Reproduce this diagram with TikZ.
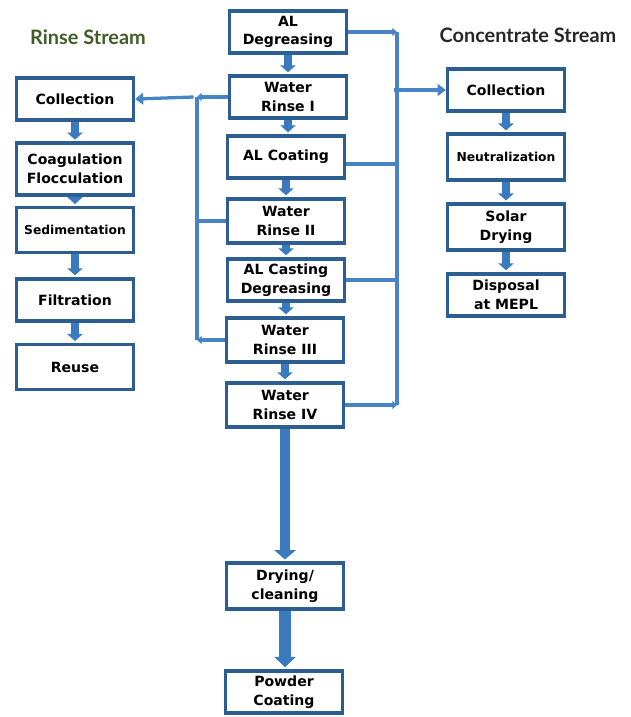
\documentclass[tikz,border=0pt]{standalone}
\usepackage{fontspec}
\setmainfont{DejaVu Sans}
\newfontfamily\titlefont{Lato}
\usetikzlibrary{arrows.meta, positioning, calc}
\definecolor{boxblue}{RGB}{44, 94, 146}
\definecolor{flowblue}{RGB}{58, 122, 190}
\definecolor{linkblue}{RGB}{70, 132, 198}
\definecolor{rinsegreen}{RGB}{66, 92, 40}

\begin{document}
\begin{tikzpicture}[x=0.03cm, y=-0.03cm,
  stage/.style={draw=boxblue, line width=3pt, fill=white, minimum width=3.5cm, minimum height=1.27cm, inner sep=2pt, align=center, font=\bfseries\fontsize{12}{16}\selectfont},
  narrow/.style={font=\bfseries\fontsize{10.5}{14}\selectfont},
  flow/.style={draw=flowblue, line width=6pt, -{Triangle[width=13pt, length=6pt]}, shorten >=1.5pt},
  link/.style={draw=linkblue, line width=2.8pt},
  feed/.style={link, -{Triangle[width=7pt, length=4pt]}},
  title/.style={font=\titlefont\bfseries\fontsize{17}{19}\selectfont}
]
  \useasboundingbox (0,0) rectangle (630,717);

  \node[title, text=rinsegreen] (rinsehead) at (88,37) {Rinse Stream};
  \node[title, text=black!85] (conchead) at (528,35) {Concentrate Stream};

  % main process line
  \node[stage] (degr) at (288,32) {AL\\Degreasing};
  \node[stage] (rinseA) at (288,97) {Water\\Rinse I};
  \node[stage] (coat) at (286,157) {AL Coating};
  \node[stage, minimum height=1.33cm] (rinseB) at (286,221) {Water\\Rinse II};
  \node[stage] (cast) at (286,280) {AL Casting\\Degreasing};
  \node[stage, minimum height=1.33cm] (rinseC) at (285,340) {Water\\Rinse III};
  \node[stage, minimum height=1.33cm] (rinseD) at (285,405) {Water\\Rinse IV};
  \node[stage, minimum height=1.38cm] (dry) at (285,586) {Drying/\\cleaning};
  \node[stage] (powder) at (284,692) {Powder\\Coating};

  % rinse stream
  \node[stage] (lcoll) at (75,99) {Collection};
  \node[stage, minimum height=1.55cm] (coag) at (75,169) {Coagulation\\Flocculation};
  \node[stage, narrow, minimum height=1.35cm] (sed) at (75,230) {Sedimentation};
  \node[stage] (filt) at (75,300) {Filtration};
  \node[stage, minimum height=1.35cm] (reuse) at (75,367) {Reuse};

  % concentrate stream
  \node[stage] (rcoll) at (506,90) {Collection};
  \node[stage, narrow, minimum height=1.38cm] (neut) at (506,157) {Neutralization};
  \node[stage, minimum height=1.38cm] (solar) at (506,227) {Solar\\Drying};
  \node[stage] (disp) at (506,295) {Disposal\\at MEPL};

  \draw[flow] (degr.south) -- (degr.south |- rinseA.north);
  \draw[flow] (rinseA.south) -- (rinseA.south |- coat.north);
  \draw[flow] (coat.south) -- (coat.south |- rinseB.north);
  \draw[flow] (rinseB.south) -- (rinseB.south |- cast.north);
  \draw[flow] (cast.south) -- (cast.south |- rinseC.north);
  \draw[flow] (rinseC.south) -- (rinseC.south |- rinseD.north);
  \draw[flow, line width=8pt, -{Triangle[width=18pt, length=8pt]}] (rinseD.south) -- (rinseD.south |- dry.north);
  \draw[flow, line width=10pt, -{Triangle[width=18pt, length=9pt]}] (dry.south) -- (dry.south |- powder.north);

  \draw[flow] (lcoll) -- (coag);
  \draw[flow] (coag) -- (sed);
  \draw[flow] (sed) -- (filt);
  \draw[flow] (filt) -- (reuse);

  \draw[flow] (rcoll) -- (neut);
  \draw[flow] (neut) -- (solar);
  \draw[flow] (solar) -- (disp);

  % rinse water goes left
  \coordinate (ltop) at (197,97);
  \coordinate (lbot) at (197,340);
  \draw[feed] (rinseA.west) -- (ltop);
  \draw[link] (ltop) -- (lbot);
  \draw[link] (rinseB.west) -- (rinseB.west -| ltop);
  \draw[feed] (rinseC.west) -- (lbot);
  \draw[link, -{Triangle[width=10pt, length=7pt]}] ([xshift=-0.1cm]ltop) -- (lcoll.east);

  % concentrate goes right
  \coordinate (rtop) at (397,32);
  \coordinate (rbot) at (397,405);
  \draw[feed] (degr.east) -- (rtop);
  \draw[link] (rtop) -- (rbot);
  \draw[link] ($(coat.east)+(0,7)$) -- ($(coat.east -| rtop)+(0,7)$);
  \draw[link] (cast.east) -- (cast.east -| rtop);
  \draw[feed] (rinseD.east) -- (rbot);
  \draw[link, -{Triangle[width=10pt, length=7pt]}] ([xshift=-0.1cm]rtop |- rcoll.west) -- (rcoll.west);
\end{tikzpicture}
\end{document}
